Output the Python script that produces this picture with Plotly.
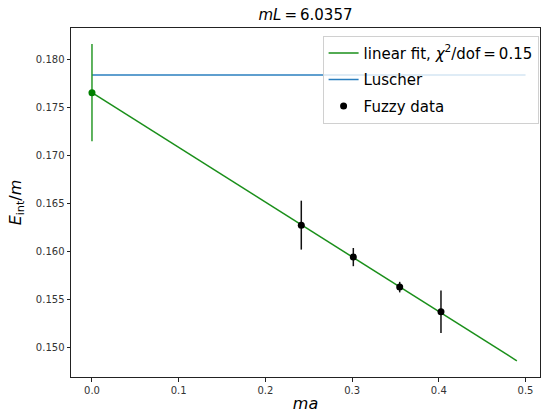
import plotly.graph_objects as go

# Data
ma = [0.2414, 0.3014, 0.3549, 0.4025]
e_int = [0.16271, 0.15938, 0.15625, 0.15368]
e_err = [0.00255, 0.00095, 0.00055, 0.00222]

extrap_x = [0.0]
extrap_y = [0.17652]
extrap_err = [0.00507]

fit_x = [0.0, 0.49]
fit_y = [0.17652, 0.14857]

luscher_x = [0.0, 0.5]
luscher_y = [0.17836, 0.17836]

FONT = "DejaVu Sans"
green = "#1a8f1a"
SP = "\u2002"  # en space, mimics mathtext spacing around '='
TSP = "\u2009"

fig = go.Figure()
fig.add_trace(go.Scatter(
    x=fit_x, y=fit_y, mode="lines",
    line=dict(color=green, width=1.5),
    name="linear fit, <i>χ</i><sup>2</sup>/dof" + TSP + "=" + TSP + "0.15", legendgroup="a",
))
fig.add_trace(go.Scatter(
    x=luscher_x, y=luscher_y, mode="lines",
    line=dict(color="#2a7fbf", width=1.5),
    name="Luscher", legendgroup="b",
))
fig.add_trace(go.Scatter(
    x=ma, y=e_int, mode="markers",
    marker=dict(color="black", size=7),
    error_y=dict(type="data", array=e_err, color="#111111", thickness=1.5, width=0),
    name="Fuzzy data", legendgroup="c",
))
fig.add_trace(go.Scatter(
    x=extrap_x, y=extrap_y, mode="markers",
    marker=dict(color="#008000", size=7),
    error_y=dict(type="data", array=extrap_err, color="#2a9a2a", thickness=1.5, width=0),
    showlegend=False, legendgroup="d",
))

axis_common = dict(
    showgrid=False, zeroline=False,
    showline=True, linecolor="#222222", linewidth=1, mirror=True,
    ticks="outside", ticklen=3.5, tickwidth=0.8, tickcolor="#222222",
    tickfont=dict(family=FONT, size=10, color="#333333"),
)

fig.update_layout(
    width=543, height=413,
    margin=dict(l=71, r=3, t=28, b=36),
    paper_bgcolor="white", plot_bgcolor="white",
    font=dict(family=FONT, color="black"),
    title=dict(text="<i>mL</i>" + TSP + "=" + TSP + "6.0357", x=0.5, xref="paper", xanchor="center",
               y=1 - 15/413, yanchor="middle", font=dict(family=FONT, size=15)),
    xaxis=dict(range=[-0.0242, 0.5167], tickvals=[0.0, 0.1, 0.2, 0.3, 0.4, 0.5],
               ticktext=["0.0", "0.1", "0.2", "0.3", "0.4", "0.5"],
               title=dict(text="<i>ma</i>", font=dict(family=FONT, size=16), standoff=3),
               **axis_common),
    yaxis=dict(range=[0.14688, 0.18326],
               tickvals=[0.150, 0.155, 0.160, 0.165, 0.170, 0.175, 0.180],
               ticktext=["0.150", "0.155", "0.160", "0.165", "0.170", "0.175", "0.180"],
               title=dict(text="<i>E</i><sub>int</sub>/<i>m</i>", font=dict(family=FONT, size=16), standoff=10),
               **axis_common),
    legend=dict(x=0.997, xanchor="right", y=0.978, yanchor="top",
                bgcolor="rgba(255,255,255,0.8)", bordercolor="#d0d0d0", borderwidth=1,
                font=dict(family=FONT, size=15, color="black"),
                traceorder="grouped", tracegroupgap=4, itemwidth=30),
    showlegend=True,
)

fig.write_html("out.html", config={"displayModeBar": False},
               post_script="document.body.style.margin='0';document.body.style.overflow='hidden';")
